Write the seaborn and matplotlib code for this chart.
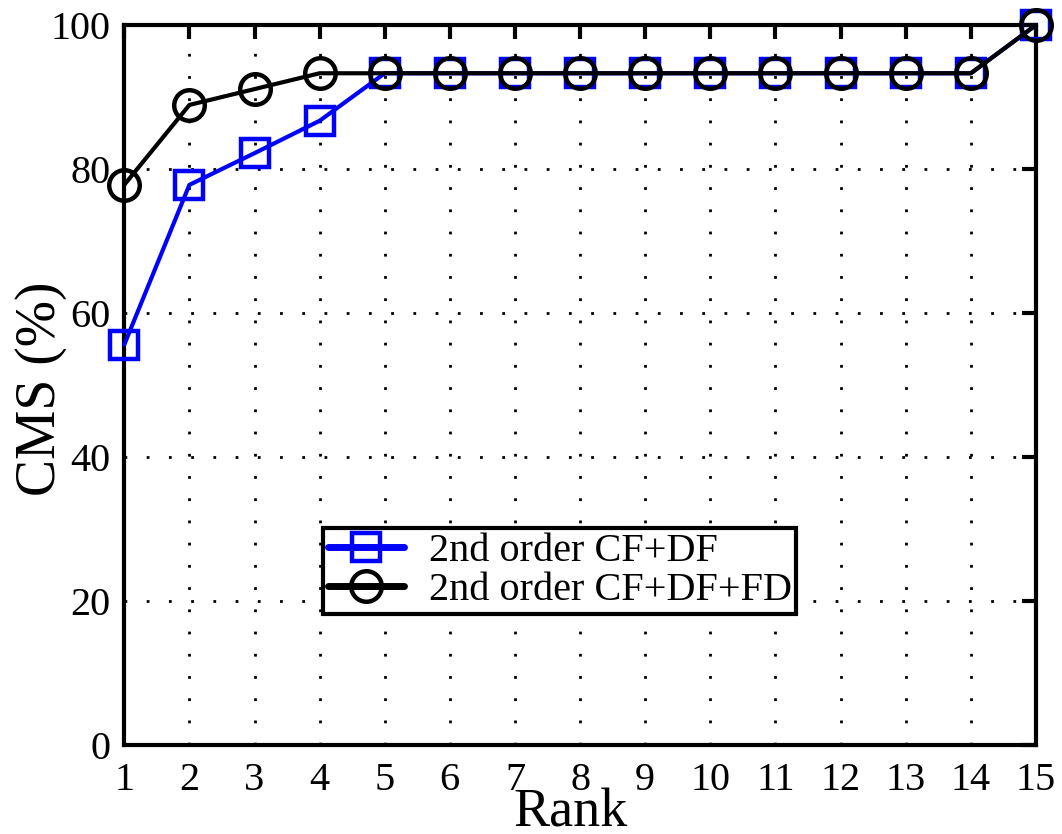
import matplotlib
matplotlib.use("Agg")
import matplotlib.pyplot as plt
import seaborn as sns
import pandas as pd

ranks = list(range(1, 16))
cf_df = [55.6, 77.8, 82.2, 86.7, 93.3, 93.3, 93.3, 93.3, 93.3, 93.3, 93.3, 93.3, 93.3, 93.3, 100.0]
cf_df_fd = [77.8, 88.9, 91.1, 93.3, 93.3, 93.3, 93.3, 93.3, 93.3, 93.3, 93.3, 93.3, 93.3, 93.3, 100.0]
series_names = ["2nd order CF+DF", "2nd order CF+DF+FD"]
yticks = [0, 20, 40, 60, 80, 100]

sns.set_theme(style="white")
plt.rcParams["font.family"] = ["Liberation Serif", "DejaVu Serif"]
plt.rcParams["text.color"] = "black"
plt.rcParams["axes.labelcolor"] = "black"

fig = plt.figure(figsize=(10.62, 8.34), dpi=100)
ax = fig.add_axes([0.117, 0.1067, 0.8585, 0.8633])

df1 = pd.DataFrame({"Rank": ranks, "CMS": cf_df})
df2 = pd.DataFrame({"Rank": ranks, "CMS": cf_df_fd})

sns.lineplot(data=df1, x="Rank", y="CMS", ax=ax, color="#0000ff", lw=3,
             marker="s", markersize=20, markerfacecolor="none",
             markeredgecolor="#0000ff", markeredgewidth=3.2,
             label=series_names[0], clip_on=False, zorder=3)
sns.lineplot(data=df2, x="Rank", y="CMS", ax=ax, color="black", lw=3,
             marker="o", markersize=22, markerfacecolor="none",
             markeredgecolor="black", markeredgewidth=3.2,
             label=series_names[1], clip_on=False, zorder=4)

ax.set_xlim(1, 15)
ax.set_ylim(0, 100)
ax.set_xticks(ranks)
ax.set_yticks(yticks)
ax.grid(True, color="black", linestyle=(0, (1, 7)), linewidth=2)
for s in ax.spines.values():
    s.set_color("black")
    s.set_linewidth(3)
ax.tick_params(direction="in", length=10, width=3, top=True, right=True,
               labelsize=29, colors="black", labelcolor="black", pad=12)
ax.tick_params(axis="y", pad=10)

ax.set_xlabel("Rank", fontsize=39, color="black")
ax.set_ylabel("CMS (%)", fontsize=40, color="black")
ax.xaxis.set_label_coords(0.489, -0.06)
ax.yaxis.set_label_coords(-0.063, 0.495)

leg = ax.legend(loc="upper left", bbox_to_anchor=(0.218, 0.302), fontsize=29,
                frameon=True, fancybox=False, edgecolor="black",
                handlelength=1.9, borderpad=0.12, labelspacing=0.05,
                handletextpad=0.6, borderaxespad=0)
leg.get_frame().set_linewidth(3)
leg.get_frame().set_alpha(1)
for h in leg.legend_handles:
    h.set_linewidth(5)
for t in leg.get_texts():
    t.set_color("black")

fig.savefig("out.png", dpi=100, facecolor="white")
